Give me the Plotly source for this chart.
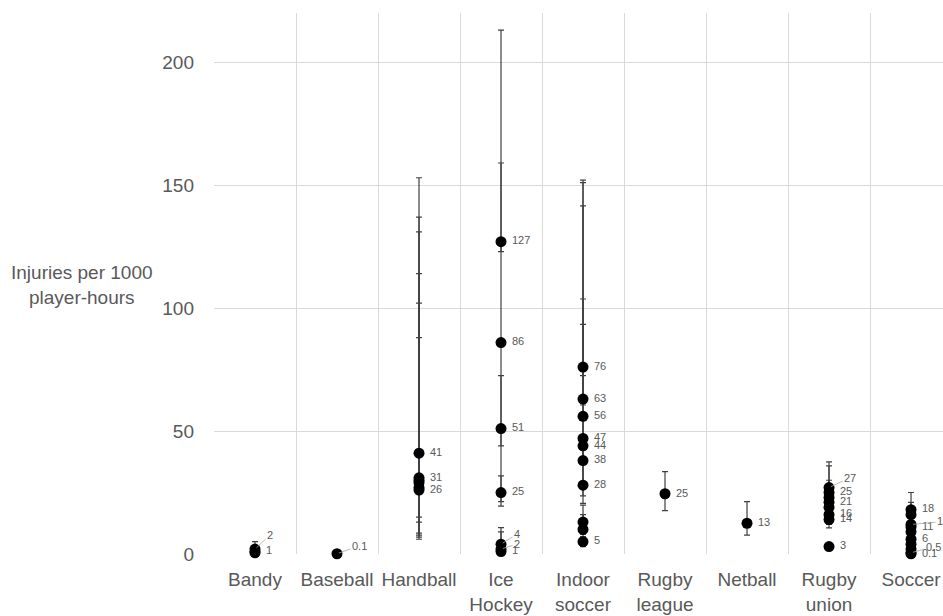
import plotly.graph_objects as go

# ---- data ----
categories = ["Bandy", "Baseball", "Handball", "Ice Hockey", "Indoor soccer",
              "Rugby league", "Netball", "Rugby union", "Soccer"]
tick_labels = ["Bandy", "Baseball", "Handball", "Ice<br>Hockey", "Indoor<br>soccer",
               "Rugby<br>league", "Netball", "Rugby<br>union", "Soccer"]
y_ticks = [0, 50, 100, 150, 200]

bandy_vals = [0.5, 1, 2]
bandy_low = [0.2, 0.3, 1]
bandy_high = [1.5, 3, 5]
bandy_lbl = ["", "1", "2"]

baseball_vals = [0.1]
baseball_low = [0.1]
baseball_high = [0.1]
baseball_lbl = ["0.1"]

handball_vals = [41, 31, 30, 29, 27, 26]
handball_low = [15, 13, 8.5, 7.7, 6.9, 6]
handball_high = [153, 137, 131, 114, 102, 88]
handball_lbl = ["41", "31", "", "", "", "26"]

icehockey_vals = [127, 86, 51, 25, 4, 2, 1]
icehockey_low = [123, 44, 19.5, 21.3, 2, 1, 0.5]
icehockey_high = [159, 213, 72.5, 31.8, 10.7, 9, 2]
icehockey_lbl = ["127", "86", "51", "25", "4", "2", "1"]

indoor_vals = [76, 63, 56, 47, 44, 38, 28, 13, 10, 5]
indoor_low = [72.5, 60.6, 28.7, 23.6, 39, 29.5, 20.6, 8, 7, 3]
indoor_high = [152, 151, 141.6, 103.7, 93.4, 46, 29, 19.9, 16, 7]
indoor_lbl = ["76", "63", "56", "47", "44", "38", "28", "", "", "5"]

rleague_vals = [24.5]
rleague_low = [17.6]
rleague_high = [33.5]
rleague_lbl = ["25"]

netball_vals = [12.5]
netball_low = [7.7]
netball_high = [21.3]
netball_lbl = ["13"]

runion_vals = [27, 25, 23, 21, 19, 16, 14, 3]
runion_low = [20, 18, 17, 15, 14, 12, 10.6, 3]
runion_high = [37.5, 35.8, 30, 28, 25, 22, 18, 3]
runion_lbl = ["27", "25", "", "21", "", "16", "14", "3"]

soccer_vals = [18, 16, 12, 11, 9, 6, 4, 2, 0.5, 0.1]
soccer_low = [12, 11, 9, 8, 6, 4, 2, 1, 0.2, 0.05]
soccer_high = [25, 21, 18, 15, 12, 9, 6, 3, 1, 0.2]
soccer_lbl = ["18", "", "12", "11", "", "6", "", "", "0.5", "0.1"]

series = [
    (bandy_vals, bandy_low, bandy_high, bandy_lbl),
    (baseball_vals, baseball_low, baseball_high, baseball_lbl),
    (handball_vals, handball_low, handball_high, handball_lbl),
    (icehockey_vals, icehockey_low, icehockey_high, icehockey_lbl),
    (indoor_vals, indoor_low, indoor_high, indoor_lbl),
    (rleague_vals, rleague_low, rleague_high, rleague_lbl),
    (netball_vals, netball_low, netball_high, netball_lbl),
    (runion_vals, runion_low, runion_high, runion_lbl),
    (soccer_vals, soccer_low, soccer_high, soccer_lbl),
]

# ---- styling: data labels moved off their point (with a leader line), pixel offsets ----
label_offsets = {
    ("Bandy", "2"): (15, -14),
    ("Baseball", "0.1"): (22, -8),
    ("Ice Hockey", "4"): (16, -10),
    ("Ice Hockey", "2"): (16, -5),
    ("Rugby union", "27"): (21, -10),
    ("Soccer", "12"): (33, -3),
    ("Soccer", "0.5"): (22, -6),
}

grey = "#595959"
font_family = "Liberation Sans, Arial, sans-serif"

xs, ys, plus, minus, texts = [], [], [], [], []
annotations = []
for cat, (v, lo, hi, lb) in zip(categories, series):
    for val, l, h, t in zip(v, lo, hi, lb):
        xs.append(cat)
        ys.append(val)
        plus.append(max(h - val, 0))
        minus.append(max(val - l, 0))
        if (cat, t) in label_offsets:
            dx, dy = label_offsets[(cat, t)]
            texts.append("")
            annotations.append(dict(
                x=cat, y=val, xref="x", yref="y", text=t,
                showarrow=True, arrowhead=0, arrowwidth=0.8, arrowcolor="#a6a6a6",
                ax=dx, ay=dy, standoff=2,
                font=dict(size=11, color=grey, family=font_family),
            ))
        else:
            texts.append("\u00a0" + t if t else "")

fig = go.Figure()
fig.add_trace(go.Scatter(
    x=xs, y=ys, mode="markers+text",
    text=texts, textposition="middle right",
    textfont=dict(size=11, color=grey, family=font_family),
    marker=dict(color="black", size=11),
    error_y=dict(type="data", symmetric=False, array=plus, arrayminus=minus,
                 color="#404040", thickness=1.2, width=3),
    cliponaxis=False,
    showlegend=False,
    hoverinfo="skip",
))

annotations.append(dict(
    text="Injuries per 1000<br>player-hours", xref="paper", yref="paper",
    x=-0.181, y=0.497, xanchor="center", yanchor="middle", showarrow=False,
    font=dict(size=19, color=grey, family=font_family),
))

fig.update_layout(
    width=943, height=616,
    margin=dict(l=214, r=0, t=13, b=62),
    paper_bgcolor="white", plot_bgcolor="white",
    font=dict(family=font_family, color=grey),
    xaxis=dict(
        type="category", categoryorder="array", categoryarray=categories,
        tickmode="array", tickvals=categories, ticktext=tick_labels,
        range=[-0.5, 8.39], tickson="boundaries", tickangle=0, automargin=False,
        showgrid=True, gridcolor="#d9d9d9", gridwidth=1,
        showline=False, ticks="", zeroline=False,
        tickfont=dict(size=19, color=grey), ticklabelstandoff=12,
    ),
    yaxis=dict(
        range=[0, 220], tickmode="array", tickvals=y_ticks, automargin=False,
        showgrid=True, gridcolor="#d9d9d9", gridwidth=1,
        zeroline=False, showline=False, ticks="",
        tickfont=dict(size=19, color=grey), ticklabelstandoff=19,
    ),
    annotations=annotations,
)

fig.write_html(
    "out.html",
    config={"displayModeBar": False},
    post_script="document.body.style.margin='0';document.body.style.overflow='hidden';",
)
